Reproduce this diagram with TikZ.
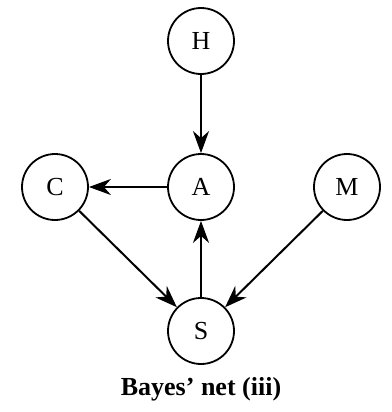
\documentclass[tikz,border=0pt]{standalone}
\usepackage{fontspec}
\setmainfont{Liberation Serif}
\usetikzlibrary{positioning,arrows.meta}

\begin{document}
\begin{tikzpicture}[node distance=73pt,on grid,
  var/.style={draw,circle,line width=0.9pt,minimum size=33pt,inner sep=0pt,font=\fontsize{13}{15}\selectfont},
  edge/.style={line width=1pt,-{Stealth[length=11pt,width=8pt,inset=3.5pt]}}]
\useasboundingbox (0,0) rectangle (195.5pt,-206pt);
% variables
\node[var] (H) at (100.5pt,-20.5pt) {H};
\node[var,below=of H] (A) {A};
\node[var,left=of A] (C) {C};
\node[var,right=of A] (M) {M};
\node[var,below=72pt of A] (S) {S};
\node[font=\fontsize{13}{15}\selectfont\bfseries,below=29pt of S] (cap) {Bayes' net (iii)};
% edges
\draw[edge] (H) -- (A);
\draw[edge] (A) -- (C);
\draw[edge] (C) -- (S);
\draw[edge] (M) -- (S);
\draw[edge] (S) -- (A);
\end{tikzpicture}
\end{document}
